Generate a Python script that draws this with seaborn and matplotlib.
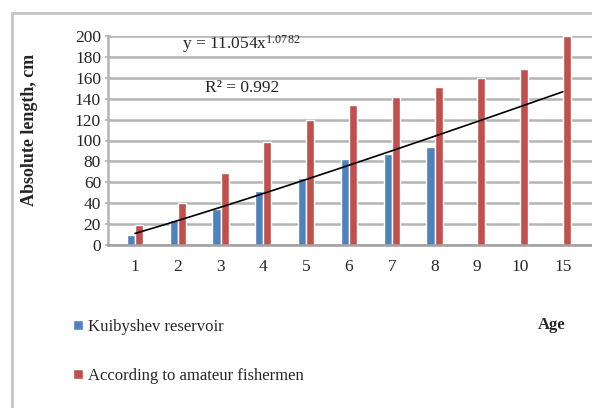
import numpy as np
import pandas as pd
import matplotlib
matplotlib.use("Agg")
import matplotlib.pyplot as plt
import seaborn as sns
from matplotlib.patches import Patch
from matplotlib.lines import Line2D

ages = ["1", "2", "3", "4", "5", "6", "7", "8", "9", "10", "15"]
kuibyshev = [10, 24, 34, 52, 64, 82, 87, 94, None, None, None]
fishermen = [19, 40, 69, 99, 120, 134, 142, 151, 160, 168, 200]
series_names = ["Kuibyshev reservoir", "According to amateur fishermen"]
trend_a, trend_b = 11.054, 1.0782
r_squared = 0.992

blue = "#4f81bd"
red = "#c0504d"
grid_grey = "#b4b4b4"

rows = []
for age, k, f in zip(ages, kuibyshev, fishermen):
    if k is not None:
        rows.append((age, series_names[0], k))
    rows.append((age, series_names[1], f))
df = pd.DataFrame(rows, columns=["age", "series", "length"])

sns.set_theme(style="white")
plt.rcParams["font.family"] = ["Liberation Serif", "DejaVu Serif"]
plt.rcParams["mathtext.fontset"] = "custom"
plt.rcParams["mathtext.rm"] = "Liberation Serif"
plt.rcParams["mathtext.it"] = "Liberation Serif:italic"

fig = plt.figure(figsize=(5.92, 4.08), dpi=100)
ax = fig.add_axes([108 / 592, 1 - 245 / 408, 1 - 108 / 592, (245 - 36) / 408])

sns.barplot(data=df, x="age", y="length", hue="series", order=ages,
            hue_order=series_names, palette=[blue, red], width=0.38,
            dodge=True, saturation=1, ax=ax, legend=False, errorbar=None)

# power trendline over category index
xs = np.linspace(0, len(ages) - 1, 300)
ax.plot(xs, trend_a * (xs + 1) ** trend_b, color="black", lw=1.2, zorder=5)

ax.set_ylim(0, 200)
ax.set_xlim(-0.63, 10.68)
ax.set_yticks(np.arange(0, 201, 20))
ax.yaxis.grid(True, color=grid_grey, lw=1.8)
ax.set_axisbelow(True)
for side in ["top", "right"]:
    ax.spines[side].set_visible(False)
ax.spines["left"].set_color(grid_grey)
ax.spines["left"].set_linewidth(1.8)
ax.spines["bottom"].set_color("#a0a0a0")
ax.spines["bottom"].set_linewidth(1.8)
ax.tick_params(axis="y", length=4, width=1.2, color=grid_grey, labelsize=12.5,
               pad=3, direction="inout", left=True)
ax.tick_params(axis="x", length=0, labelsize=12.5, pad=10)
ax.set_xlabel("")
ax.set_ylabel("")

fig.text(30 / 592, 1 - 130 / 408, "Absolute length, cm", rotation=90,
         ha="center", va="center", fontsize=13, fontweight="bold")
fig.text(182 / 592, 1 - 44 / 408, r"y = 11.054x$^{\mathrm{1.0782}}$",
         ha="left", va="center", fontsize=12.5)
fig.text(205 / 592, 1 - 88 / 408, f"R² = {r_squared}", ha="left",
         va="center", fontsize=12.5)
fig.text(552 / 592, 1 - 325 / 408, "Age", ha="center", va="center",
         fontsize=12, fontweight="bold")

handles = [Patch(facecolor=blue), Patch(facecolor=red)]
fig.legend(handles, series_names, loc="upper left",
           bbox_to_anchor=(66 / 592, 1 - 312 / 408), frameon=False,
           fontsize=12, handlelength=0.6, handleheight=0.6, handletextpad=0.3,
           labelspacing=2.0, borderaxespad=0)

# outer chart frame
fig.add_artist(Line2D([12 / 592, 12 / 592], [0, 1 - 13 / 408],
                      transform=fig.transFigure, color="#c4c4c4", lw=2))
fig.add_artist(Line2D([12 / 592, 1], [1 - 13 / 408, 1 - 13 / 408],
                      transform=fig.transFigure, color="#c4c4c4", lw=2))

fig.savefig("out.png", dpi=100)
